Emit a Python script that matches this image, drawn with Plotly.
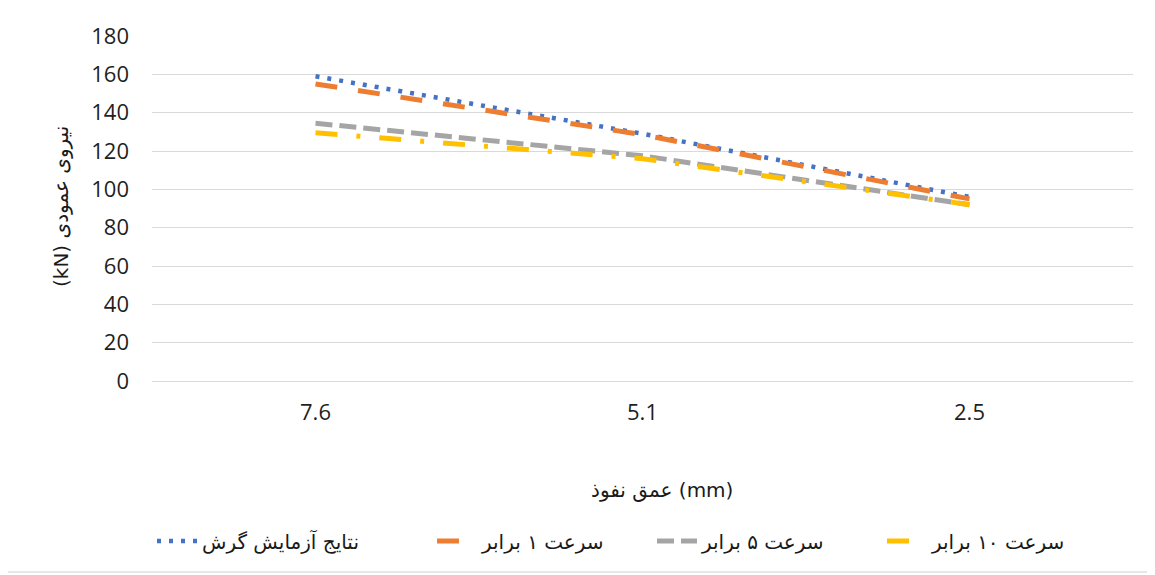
import plotly.graph_objects as go

depth_labels = ["7.6", "5.1", "2.5"]
gersh_test = [159, 129, 96]
speed_1x = [155, 128.5, 95]
speed_5x = [134.5, 117.5, 92]
speed_10x = [129.5, 116, 92]

series_names = ["نتایج آزمایش گرش", "سرعت ۱ برابر", "سرعت ۵ برابر", "سرعت ۱۰ برابر"]
y_ticks = list(range(0, 181, 20))

colors = ["#4472C4", "#ED7D31", "#A5A5A5", "#FFC000"]
dashes = ["4px,8px", "22px,21px", "17px,7px", "22px,19px,4px,19px"]
widths = [4.5, 5, 5, 5]
legend_ids = ["legend", "legend2", "legend3", "legend4"]
legend_sx = [152, 432, 652, 882]  # screen x of each legend entry

FONT = "'Open Sans', 'DejaVu Sans', sans-serif"
AFONT = "'DejaVu Sans', sans-serif"

fig = go.Figure()
for name, vals, c, d, w, lg in zip(series_names, [gersh_test, speed_1x, speed_5x, speed_10x],
                                   colors, dashes, widths, legend_ids):
    fig.add_trace(go.Scatter(
        x=depth_labels, y=vals, name=name, mode="lines",
        line=dict(color=c, width=w, dash=d), legend=lg,
    ))

# body margin of the page is 8px; plot area on screen: x 152..1133, y 36..381
OFF = 8
SL, ST, SR, SB = 152, 36, 1133, 381
W, H = 1155 - OFF, 575 - OFF
L, T = SL - OFF, ST - OFF
R = W - (SR - OFF)
B = H - (SB - OFF)
pw, ph = SR - SL, SB - ST

def px_x(p):
    return (p - SL) / pw

def px_y(p):
    return (SB - p) / ph

legend_layout = {}
for lg, sx in zip(legend_ids, legend_sx):
    legend_layout[lg] = dict(
        orientation="h", x=px_x(sx), xanchor="left", y=px_y(541), yanchor="middle",
        font=dict(family=AFONT, size=20, color="#1a1a1a"),
        bgcolor="rgba(0,0,0,0)", itemwidth=40,
    )

fig.update_layout(
    width=W, height=H,
    margin=dict(l=L, r=R, t=T, b=B),
    paper_bgcolor="white", plot_bgcolor="white",
    font=dict(family=FONT, size=20, color="#262626"),
    showlegend=True,
    xaxis=dict(
        type="category", range=[-0.5, 2.5], showgrid=False, zeroline=False,
        showline=True, linecolor="#d9d9d9", linewidth=1,
        ticks="", tickfont=dict(family=FONT, size=22, color="#1f1f1f"),
        ticklabelstandoff=12,
    ),
    yaxis=dict(
        range=[0, 180], tickvals=y_ticks, showgrid=True, gridcolor="#d9d9d9", gridwidth=1,
        zeroline=False, showline=False, ticks="",
        tickfont=dict(family=FONT, size=22, color="#1f1f1f"),
        ticklabelstandoff=22,
    ),
    annotations=[
        dict(text="(kN) نیروی عمودی", xref="paper", yref="paper",
             x=px_x(61), y=px_y(207), xanchor="center", yanchor="middle",
             textangle=-90, showarrow=False,
             font=dict(family=AFONT, size=20, color="#1a1a1a")),
        dict(text="عمق نفوذ (mm)", xref="paper", yref="paper",
             x=px_x(662), y=px_y(490), xanchor="center", yanchor="middle",
             showarrow=False,
             font=dict(family=AFONT, size=20, color="#1a1a1a")),
    ],
    shapes=[
        dict(type="rect", xref="paper", yref="paper",
             x0=px_x(6), x1=px_x(1149), y0=px_y(572), y1=px_y(2),
             line=dict(color="#d0d0d0", width=1), fillcolor="rgba(0,0,0,0)", layer="below"),
    ],
    **legend_layout,
)

fig.write_html("out.html")
